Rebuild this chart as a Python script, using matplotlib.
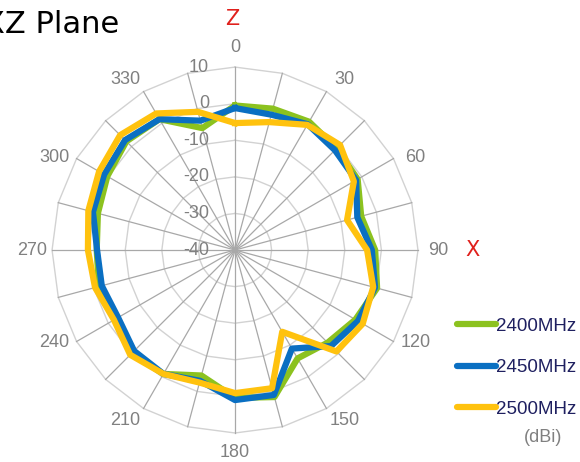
import matplotlib.pyplot as plt
import numpy as np
from matplotlib.lines import Line2D

# angles every 15 deg, gain in dBi
angles_deg = list(range(0, 360, 15))
series_names = ["2400MHz", "2450MHz", "2500MHz"]
gain_2400 = [-0.5, 0.0, 0.5, -0.7, -1.3, -4.3, -1.7, 0.2, -2.0, -4.2, -5.8, 1.6,
             0.4, -4.5, -0.9, 0.0, -2.5, -1.5, -2.2, -1.2, 0.3, 2.0, 1.3, -5.5]
gain_2450 = [-1.2, -1.7, -0.3, -1.4, -1.8, -5.4, -2.6, -0.4, -1.2, -2.9, -8.9, 1.0,
             1.0, -3.0, -0.9, -1.0, -3.1, -2.3, -2.3, 0.2, 1.3, 2.5, 1.3, -3.4]
gain_2500 = [-5.3, -3.8, -0.5, 0.6, -2.5, -8.3, -3.9, -0.9, 0.3, -0.8, -14.2, -0.9,
             -0.9, -2.5, -0.9, 0.5, -1.8, -0.4, 0.2, 1.5, 2.9, 4.4, 3.1, -0.9]
series_colors = ["#8cc21f", "#0a6fc2", "#ffc20e"]

angle_labels = ["0", "30", "60", "90", "120", "150", "180", "210", "240", "270", "300", "330"]
label_angles = list(range(0, 360, 30))
radial_ticks = [-40, -30, -20, -10, 0, 10]

fig = plt.figure(figsize=(5.8, 4.62), dpi=100)
ax = fig.add_axes([0.0897, 0.0628, 0.631, 0.792], projection="polar")
ax.set_theta_zero_location("N")
ax.set_theta_direction(-1)
ax.set_ylim(radial_ticks[0], radial_ticks[-1])
ax.grid(False)
ax.spines["polar"].set_visible(False)
ax.set_xticks([])
ax.set_yticks([])

closed = np.deg2rad(angles_deg + [360])

# polygon rings and spokes like an Excel radar chart
for lvl in radial_ticks[1:]:
    ax.plot(closed, [lvl] * len(closed), color="#d2d2d2", lw=1.0, zorder=1, clip_on=False)
for a in angles_deg:
    ax.plot([np.deg2rad(a)] * 2, [radial_ticks[0], radial_ticks[-1]], color="#a8a8a8",
            lw=0.9, zorder=1, clip_on=False)

for name, vals, col in zip(series_names, [gain_2400, gain_2450, gain_2500], series_colors):
    ax.plot(closed, vals + [vals[0]], color=col, lw=4.5, label=name, zorder=3, clip_on=False)

# Excel pushes the diagonal labels a bit toward the horizontal
span = radial_ticks[-1] - radial_ticks[0]
lab_r = radial_ticks[0] + 203 / 183 * span
for a, t in zip(label_angles, angle_labels):
    th = a + 3.2 * np.sin(np.deg2rad(2 * a))
    ax.text(np.deg2rad(th), lab_r, t, ha="center", va="center", fontsize=13,
            color="#808080", family="Liberation Sans", clip_on=False)

for v in radial_ticks:
    ax.annotate(str(v), xy=(0, v), xytext=(-26, 0), textcoords="offset pixels",
                ha="right", va="center", fontsize=13, color="#808080",
                family="Liberation Sans", zorder=2, annotation_clip=False)

fig.text(-0.0276, 0.928, "XZ Plane", fontsize=22, family="DejaVu Sans", color="black", va="baseline")
fig.text(232 / 580, 1 - 19 / 462, "Z", fontsize=15, color="#e0201c", ha="center", va="center")
fig.text(473 / 580, 1 - 250 / 462, "X", fontsize=15, color="#e0201c", ha="center", va="center")
fig.text(543 / 580, 1 - 437 / 462, "(dBi)", fontsize=13, color="#808080", ha="center",
         va="center", family="Liberation Sans")

handles = [Line2D([], [], color=c, lw=4.5, solid_capstyle="round") for c in series_colors]
fig.legend(handles, series_names, loc="upper left", bbox_to_anchor=(440 / 580, 1 - 301 / 462),
           frameon=False, handlelength=2.1, handletextpad=0.0,
           labelspacing=1.3, labelcolor="#1f2060", prop={"family": "Liberation Sans", "size": 13.5})

fig.savefig("out.png", dpi=100, facecolor="white")
